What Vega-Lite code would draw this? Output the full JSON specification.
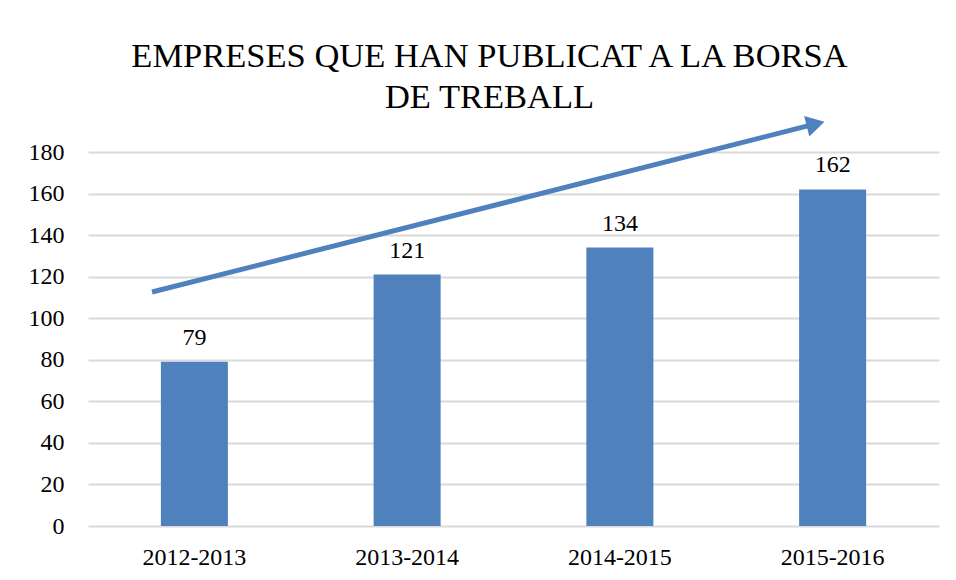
{
  "$schema": "https://vega.github.io/schema/vega-lite/v6.json",
  "width": 851,
  "height": 374,
  "autosize": {"type": "none"},
  "padding": {"left": 88, "top": 152, "right": 17, "bottom": 54},
  "background": "white",
  "title": {
    "text": ["EMPRESES QUE HAN PUBLICAT A LA BORSA", "DE TREBALL"],
    "font": "Liberation Serif",
    "fontSize": 34.5,
    "fontWeight": "normal",
    "lineHeight": 41,
    "color": "#000000",
    "anchor": "middle",
    "frame": "group",
    "dx": -24,
    "offset": -2
  },
  "config": {
    "view": {"stroke": null},
    "font": "Liberation Serif",
    "axis": {
      "domain": false,
      "ticks": false,
      "labelFont": "Liberation Serif",
      "labelFontSize": 24,
      "labelColor": "#000000",
      "titleFontSize": 0
    }
  },
  "layer": [
    {
      "data": {
        "values": [
          {"curs": "2012-2013", "empreses": 79},
          {"curs": "2013-2014", "empreses": 121},
          {"curs": "2014-2015", "empreses": 134},
          {"curs": "2015-2016", "empreses": 162}
        ]
      },
      "encoding": {
        "x": {
          "field": "curs",
          "type": "nominal",
          "sort": null,
          "scale": {"paddingInner": 0.685, "paddingOuter": 0.3425},
          "axis": {"title": null, "labelAngle": 0, "labelPadding": 19, "grid": false}
        },
        "y": {
          "field": "empreses",
          "type": "quantitative",
          "scale": {"domain": [0, 180], "nice": false},
          "axis": {
            "title": null,
            "values": [0, 20, 40, 60, 80, 100, 120, 140, 160, 180],
            "grid": true,
            "gridColor": "#d9d9d9",
            "gridWidth": 2,
            "labelPadding": 24
          }
        }
      },
      "layer": [
        {"mark": {"type": "bar", "color": "#4f81bd"}},
        {
          "mark": {"type": "text", "baseline": "alphabetic", "dy": -17, "fontSize": 24, "font": "Liberation Serif", "color": "#000000"},
          "encoding": {"text": {"field": "empreses", "type": "quantitative"}}
        }
      ]
    },
    {
      "data": {
        "values": [
          {"pos": 0.301, "valor": 112.6, "part": "cos"},
          {"pos": 3.42, "valor": 193.5, "part": "cos"}
        ]
      },
      "mark": {"type": "line", "color": "#4f81bd", "strokeWidth": 5, "clip": false},
      "encoding": {
        "x": {"field": "pos", "type": "quantitative", "scale": {"domain": [0, 4], "nice": false}, "axis": null},
        "y": {"field": "valor", "type": "quantitative"}
      }
    },
    {
      "data": {
        "values": [
          {"pos": 3.42, "valor": 193.5, "part": "punta"}
        ]
      },
      "mark": {"type": "point", "shape": "triangle-right", "filled": true, "opacity": 1, "size": 450, "angle": -14.2, "color": "#4f81bd", "clip": false},
      "encoding": {
        "x": {"field": "pos", "type": "quantitative", "scale": {"domain": [0, 4], "nice": false}, "axis": null},
        "y": {"field": "valor", "type": "quantitative"}
      }
    }
  ],
  "resolve": {"scale": {"x": "independent"}}
}
